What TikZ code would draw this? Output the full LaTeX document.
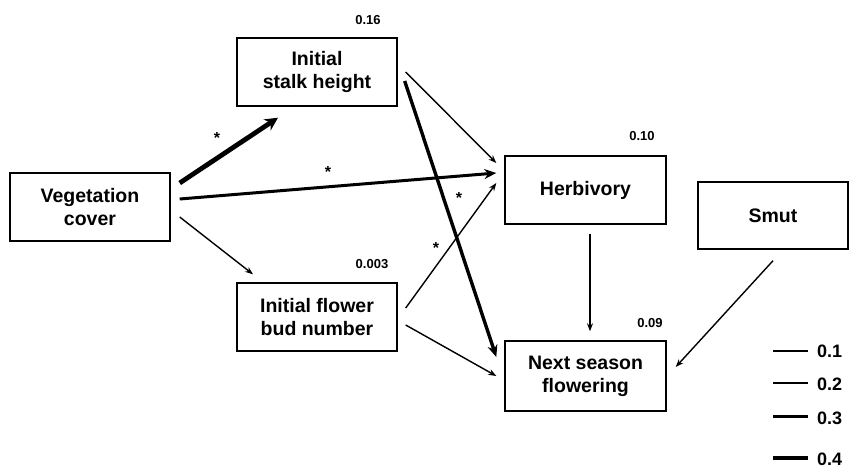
\documentclass[tikz,border=0pt]{standalone}
\usepackage{fontspec}
\setmainfont{Liberation Sans}
\usetikzlibrary{arrows.meta,calc}
\begin{document}
\begin{tikzpicture}[x=1pt,y=-1pt,
  box/.style={draw,line width=1.4pt,minimum width=160pt,minimum height=68pt,align=center,inner sep=0pt,
    font=\fontsize{19.5}{23}\selectfont\bfseries},
  rsq/.style={font=\fontsize{13}{15}\selectfont\bfseries,inner sep=0pt},
  star/.style={font=\fontsize{16}{16}\selectfont\bfseries,inner sep=0pt},
  thinarr/.style={line width=1.4pt,-{Stealth[length=8pt,width=6pt]}},
  medarr/.style={line width=3pt,-{Stealth[length=12pt,width=10pt]}},
  bigarr/.style={line width=4.8pt,-{Stealth[length=13pt,width=13pt]}},
  legline/.style={line cap=butt},
  leglab/.style={font=\fontsize{18}{20}\selectfont\bfseries,inner sep=0pt,anchor=west}]
\useasboundingbox (0,0) rectangle (850,471);
\node[box] (veg) at (90,207) {Vegetation\\cover};
\node[box] (stalk) at (317,72) {Initial\\stalk height};
\node[box] (bud) at (317,317) {Initial flower\\bud number};
\node[box,minimum width=161pt] (herb) at (585.5,190) {Herbivory};
\node[box,minimum width=150pt,minimum height=67pt] (smut) at (773,215.5) {Smut};
\node[box,minimum width=161pt,minimum height=70pt] (next) at (585.5,376) {Next season\\flowering};

\node[rsq] (r1) at (368,20) {0.16};
\node[rsq] (r2) at (642,136) {0.10};
\node[rsq] (r3) at (372,264) {0.003};
\node[rsq] (r4) at (650,323) {0.09};

\draw[bigarr] ($(veg.east)+(9,-24)$) -- ($(stalk.south)+(-39,11)$);
\draw[medarr] ($(veg.east)+(9,-8)$) -- ($(herb.west)+(-8,-17)$);
\draw[thinarr] ($(veg.east)+(9,10)$) -- ($(bud.north)+(-64,-8)$);
\draw[thinarr] ($(stalk.east)+(8,0)$) -- ($(herb.west)+(-8,-27)$);
\draw[line width=3.4pt,-{Stealth[length=12pt,width=10pt]}] ($(stalk.east)+(7,9)$) -- ($(next.west)+(-8,-19)$);
\draw[thinarr] ($(bud.east)+(8,-9)$) -- ($(herb.west)+(-8,-7)$);
\draw[thinarr] ($(bud.east)+(8,8)$) -- ($(next.west)+(-8,0)$);
\draw[thinarr] ($(herb.south)+(4.5,9)$) -- ($(next.north)+(4.5,-9)$);
\draw[thinarr] ($(smut.south)+(0,11)$) -- ($(next.east)+(9,-9)$);

\node[star] (s1) at (217,138) {*};
\node[star] (s2) at (328,172) {*};
\node[star] (s3) at (459,198) {*};
\node[star] (s4) at (436,248) {*};

\node[leglab] (l1) at (817,351) {0.1};
\node[leglab] (l2) at (817,384) {0.2};
\node[leglab] (l3) at (817,418) {0.3};
\node[leglab] (l4) at (817,459) {0.4};
\draw[legline,line width=1.5pt] ($(l1.west)+(-9,0)$) -- ++(-35,0);
\draw[legline,line width=1.1pt] ($(l2.west)+(-9,-1)$) -- ++(-35,0);
\draw[legline,line width=3pt] ($(l3.west)+(-9,-1.5)$) -- ++(-35,0);
\draw[legline,line width=4.6pt] ($(l4.west)+(-9,-1)$) -- ++(-35,0);
\end{tikzpicture}
\end{document}
